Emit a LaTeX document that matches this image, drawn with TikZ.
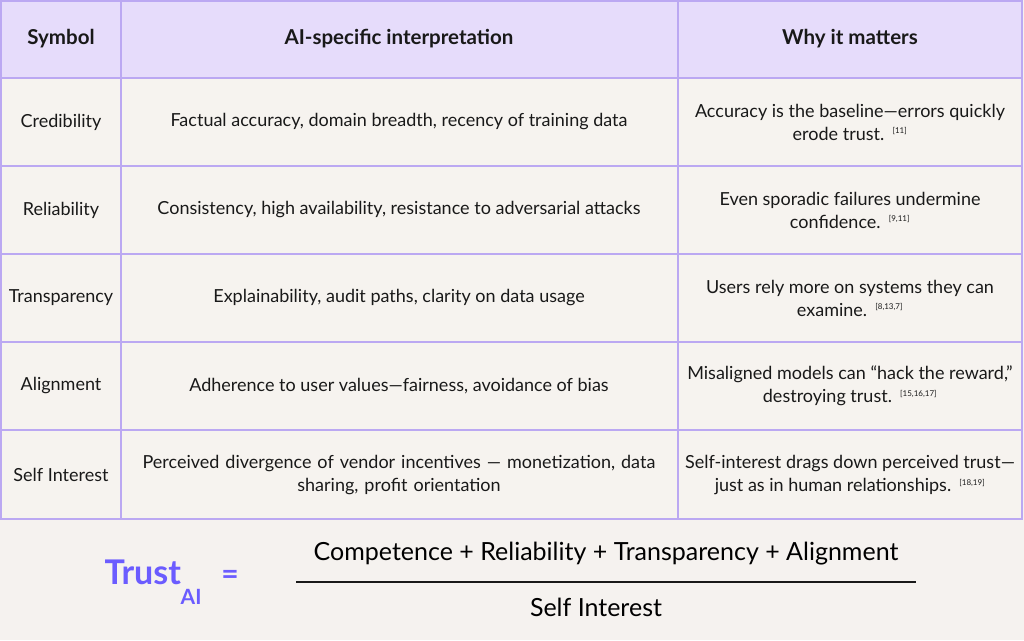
\documentclass[tikz,border=0pt]{standalone}
\usepackage{fontspec}
\setmainfont{Lato}
\definecolor{bord}{HTML}{BBA8F2}
\definecolor{head}{HTML}{E6DCFB}
\definecolor{body}{HTML}{F6F3EF}
\definecolor{bg}{HTML}{F5F2EF}
\definecolor{tru}{HTML}{6B5CFF}
\newcommand{\refc}[1]{\textsuperscript{\,\fontsize{8}{8}\selectfont[#1]}}
\begin{document}
\begin{tikzpicture}[x=1pt,y=-1pt,
 cell/.style={align=center,font=\fontsize{18}{23}\selectfont,text=black!90},
 hd/.style={font=\fontsize{20.5}{22}\selectfont\bfseries,text=black!90}]
\fill[bg] (0,0) rectangle (1024,640);
\useasboundingbox (0,0) rectangle (1024,640);
\fill[body] (1,78) rectangle (1022,519);
\fill[head] (1,1) rectangle (1022,78);
\foreach \y in {78,166,254,342,430} \draw[bord,line width=2pt] (1,\y) -- (1022,\y);
\draw[bord,line width=2pt] (1,1) rectangle (1022,519);
\draw[bord,line width=2pt] (121,1) -- (121,519);
\draw[bord,line width=2pt] (678,1) -- (678,519);
\node[hd] (h1) at (61,39) {Symbol};
\node[hd] (h2) at (399,39) {AI-specific interpretation};
\node[hd] (h3) at (850,39) {Why it matters};
\node[cell] (s1) at (61,122) {Credibility};
\node[cell] (s2) at (61,210) {Reliability};
\node[cell] (s3) at (61,298) {Transparency};
\node[cell] (s4) at (61,386) {Alignment};
\node[cell] (s5) at (61,475) {Self Interest};
\node[cell] (i1) at (399,122) {Factual accuracy, domain breadth, recency of training data};
\node[cell] (i2) at (399,210) {Consistency, high availability, resistance to adversarial attacks};
\node[cell] (i3) at (399,298) {Explainability, audit paths, clarity on data usage};
\node[cell] (i4) at (399,386) {Adherence to user values---fairness, avoidance of bias};
\node[cell,text width=540] (i5) at (399,475) {Perceived divergence of vendor incentives --- monetization, data\\sharing, profit orientation};
\node[cell] (w1) at (850,122) {Accuracy is the baseline---errors quickly\\erode trust. \refc{11}};
\node[cell] (w2) at (850,210) {Even sporadic failures undermine\\confidence. \refc{9,11}};
\node[cell] (w3) at (850,298) {Users rely more on systems they can\\examine. \refc{8,13,7}};
\node[cell] (w4) at (850,386) {Misaligned models can ``hack the reward,''\\destroying trust. \refc{15,16,17}};
\node[cell] (w5) at (850,475) {Self-interest drags down perceived trust---\\just as in human relationships. \refc{18,19}};
\node[font=\fontsize{34}{34}\selectfont\bfseries,text=tru,anchor=base west] (t) at (101,584) {Trust};
\node[font=\fontsize{21}{21}\selectfont\bfseries,text=tru,anchor=base west,inner sep=0] (ai) at (t.base east) [yshift=-20pt,xshift=-4pt] {AI};
\node[font=\fontsize{30}{30}\selectfont\bfseries,text=tru] (eq) at (230,577) {=};
\node[font=\fontsize{25}{25}\selectfont] (num) at (606,554) {Competence + Reliability + Transparency + Alignment};
\node[font=\fontsize{25}{25}\selectfont] (den) at (596,607) {Self Interest};
\coordinate (fa) at (296,582); \coordinate (fb) at (916,582);
\draw[line width=2pt,black!90] (fa) -- (fb);
\end{tikzpicture}
\end{document}
